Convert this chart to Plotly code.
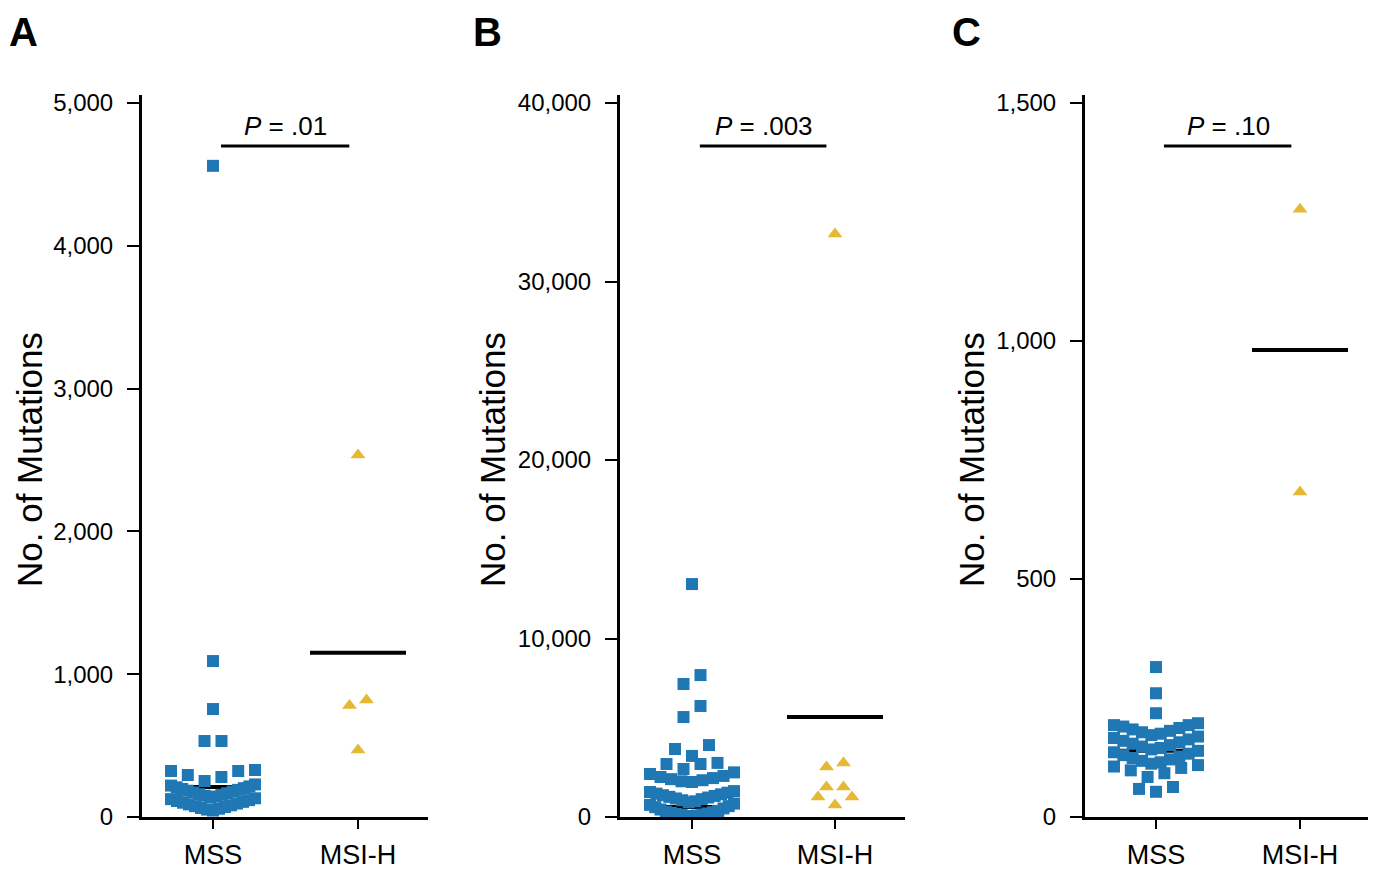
import plotly.graph_objects as go

# ---------------- data ----------------
categories = ["MSS", "MSI-H"]
panel_letters = ["A", "B", "C"]
p_values = [".01", ".003", ".10"]
y_ticks_a = [0, 1000, 2000, 3000, 4000, 5000]
y_ticks_b = [0, 10000, 20000, 30000, 40000]
y_ticks_c = [0, 500, 1000, 1500]

mss_a = [45, 52, 58, 63, 70, 76, 82, 88, 94, 100, 106, 112, 118, 125, 131,
         137, 143, 149, 155, 160, 166, 172, 178, 184, 190, 196, 202, 208, 214, 220, 228,
         252, 280, 294, 322, 322, 329, 532, 532, 756, 1092, 4560]
msih_a = [470, 780, 820, 2535]

mss_b = [30, 55, 85, 110, 140, 170, 200, 235, 270, 300, 340, 420, 480, 550, 610, 680, 750,
         820, 880, 940, 1000, 1040, 1090, 1130, 1180, 1220, 1270, 1310, 1360, 1400, 1450,
         1960, 2000, 2060, 2120, 2180, 2240, 2300, 2410, 2500, 2690,
         2970, 2970, 3030, 3420, 3810, 4030, 5600, 6220, 7450, 7950, 13050]
msih_b = [670, 1120, 1120, 1680, 1680, 2800, 3030, 32660]

mss_c = [53, 59, 63, 84, 92, 98, 103, 106, 109, 112, 115, 118, 121, 124, 127, 130,
         133, 136, 139, 142, 145, 148, 151, 154, 157, 160, 163, 166, 169, 172, 175,
         178, 181, 184, 187, 190, 193, 193, 197, 218, 260, 315]
msih_c = [683, 1277]

mss_mean = [210, 560, 139]
msih_mean = [1150, 5600, 981]

# ---------------- layout constants (screen px) ----------------
PAGE_W, PAGE_H = 1378, 878
OFF = 8                      # default body margin of the page
W, H = PAGE_W - 2 * OFF, PAGE_H - 2 * OFF
Y_BOTTOM, Y_TOP_TICK, Y_AXIS_TOP = 817, 103, 95
panels_px = [(142, 428), (620, 905), (1085, 1368)]
cat_px = [(213, 358), (692, 835), (1156, 1300)]
title_x_px = [29, 492, 971]
letter_x_px = [7, 471, 950]
BLUE = "#1f77b4"
GOLD = "#e5b934"
FONT = "Liberation Sans, Arial, Helvetica, sans-serif"
MARKER_PX = 13
STEP_PX = 17
MAXSPAN_PX = 84


def px_x(px):
    return (px - OFF) / W


def px_y(py):
    return 1 - (py - OFF) / H


def swarm_positions(values, center, binsize, step, maxspan):
    vals = sorted(values)
    xs, ys = [], []
    i = 0
    while i < len(vals):
        start = vals[i]
        j = i
        while j < len(vals) and vals[j] - start <= binsize:
            j += 1
        group = vals[i:j]
        n = len(group)
        s = step if n < 2 else min(step, maxspan / (n - 1))
        slots = [(k - (n - 1) / 2) * s for k in range(n)]
        slots.sort(key=lambda o: (round(abs(o), 6), o))
        for v, o in zip(group, slots):
            xs.append(center + o)
            ys.append(v)
        i = j
    return xs, ys


data_sets = [(mss_a, msih_a, y_ticks_a), (mss_b, msih_b, y_ticks_b), (mss_c, msih_c, y_ticks_c)]

fig = go.Figure()
annotations = []
shapes = []
for p, (mss, msih, yt) in enumerate(data_sets):
    xn = "x" if p == 0 else f"x{p+1}"
    yn = "y" if p == 0 else f"y{p+1}"
    left, right = panels_px[p]
    c0, c1 = cat_px[p]
    ppu = c1 - c0  # px per category unit
    x_range = [(left - c0) / ppu, (right - c0) / ppu]
    top = yt[-1]
    y_range = [0, top * (Y_BOTTOM - Y_AXIS_TOP) / (Y_BOTTOM - Y_TOP_TICK)]
    px_per_val = (Y_BOTTOM - Y_TOP_TICK) / top
    binsize = MARKER_PX / px_per_val
    step = STEP_PX / ppu
    maxspan = MAXSPAN_PX / ppu
    half = 48 / ppu

    # mean lines (under markers)
    for ci, m in enumerate([mss_mean[p], msih_mean[p]]):
        fig.add_trace(go.Scatter(x=[ci - half, ci + half], y=[m, m], mode="lines",
                                 line=dict(color="black", width=4), xaxis=xn, yaxis=yn,
                                 showlegend=False, hoverinfo="skip"))

    xs, ys = swarm_positions(mss, 0, binsize, step, maxspan)
    fig.add_trace(go.Scatter(x=xs, y=ys, mode="markers", xaxis=xn, yaxis=yn,
                             marker=dict(symbol="square", size=12, color=BLUE, line=dict(width=0)),
                             showlegend=False, name="MSS"))
    xs, ys = swarm_positions(msih, 1, binsize, step, maxspan)
    fig.add_trace(go.Scatter(x=xs, y=ys, mode="markers", xaxis=xn, yaxis=yn,
                             marker=dict(symbol="triangle-up", size=13, color=GOLD, line=dict(width=0)),
                             showlegend=False, name="MSI-H"))

    axis_common = dict(showline=True, linecolor="black", linewidth=3, showgrid=False,
                       zeroline=False, ticks="outside", tickcolor="black", tickwidth=2,
                       fixedrange=True, automargin=False)
    fig.update_layout(**{
        ("xaxis" if p == 0 else f"xaxis{p+1}"): dict(
            axis_common, domain=[px_x(left), px_x(right)], range=x_range,
            tickvals=[0, 1], ticktext=categories, ticklen=9,
            tickfont=dict(family=FONT, size=27, color="black"), anchor=yn,
            ticklabelstandoff=3),
        ("yaxis" if p == 0 else f"yaxis{p+1}"): dict(
            axis_common, domain=[px_y(Y_BOTTOM), px_y(Y_AXIS_TOP)], range=y_range,
            tickvals=yt, ticktext=[f"{v:,}" for v in yt], ticklen=12,
            tickfont=dict(family=FONT, size=24, color="black"), anchor=xn,
            ticklabelstandoff=9),
    })

    # axis title
    annotations.append(dict(text="No. of Mutations", textangle=-90, xref="paper", yref="paper",
                            x=px_x(title_x_px[p]), y=px_y(460), xanchor="center", yanchor="middle",
                            showarrow=False, font=dict(family=FONT, size=35, color="black")))
    # panel letter
    annotations.append(dict(text=f"<b>{panel_letters[p]}</b>", xref="paper", yref="paper",
                            x=px_x(letter_x_px[p]), y=1, xanchor="left", yanchor="top",
                            showarrow=False, font=dict(family=FONT, size=40, color="black")))
    # P value
    annotations.append(dict(text=f"<i>P</i> = {p_values[p]}", xref=xn, yref="paper",
                            x=0.5, y=px_y(126), xanchor="center", yanchor="middle",
                            showarrow=False, font=dict(family=FONT, size=26, color="black")))
    shapes.append(dict(type="line", xref=xn, yref="paper", x0=0.055, x1=0.94,
                       y0=px_y(146), y1=px_y(146), line=dict(color="black", width=3)))

fig.update_layout(width=W, height=H, margin=dict(l=0, r=0, t=0, b=0, autoexpand=False),
                  plot_bgcolor="white", paper_bgcolor="white",
                  annotations=annotations, shapes=shapes, showlegend=False)

fig.write_html("out.html")
